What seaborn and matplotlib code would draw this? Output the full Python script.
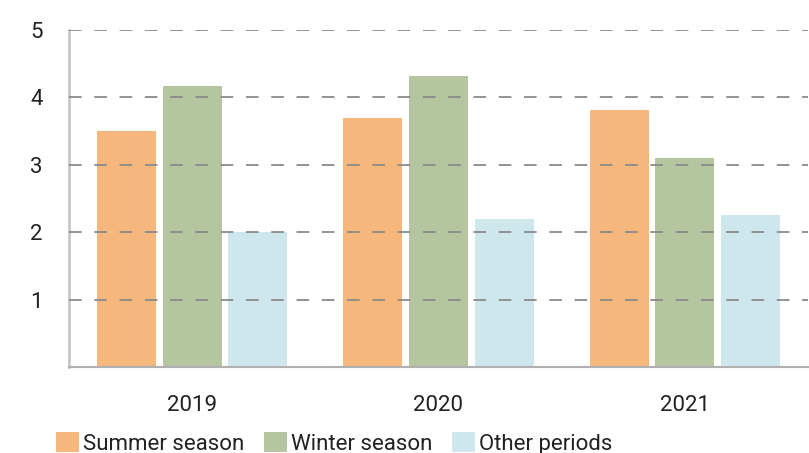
import matplotlib
matplotlib.use("Agg")
import matplotlib.pyplot as plt
import seaborn as sns
import pandas as pd

years = ["2019", "2020", "2021"]
series = ["Summer season", "Winter season", "Other periods"]
summer = [3.5, 3.7, 3.82]
winter = [4.17, 4.32, 3.1]
other = [2.0, 2.2, 2.25]
colors = ["#F6B77C", "#B5C5A0", "#CEE7EC"]

df = pd.DataFrame({
    "year": years * 3,
    "value": summer + winter + other,
    "series": [series[0]] * 3 + [series[1]] * 3 + [series[2]] * 3,
})

sns.set_theme(style="white")
plt.rcParams["font.family"] = ["Roboto", "DejaVu Sans"]

fig = plt.figure(figsize=(8.09, 4.53), dpi=100)
fig.patch.set_facecolor("white")
ax = fig.add_axes([69 / 809, 1 - 367 / 453, 739 / 809, 337 / 453])

sns.barplot(data=df, x="year", y="value", hue="series", palette=colors,
            width=0.8, gap=0.1, ax=ax, legend=True, saturation=1)

ax.set_xlim(-0.5, 2.5)
ax.set_ylim(0, 5)
ax.set_yticks([1, 2, 3, 4, 5])
ax.set_xlabel("")
ax.set_ylabel("")
ax.yaxis.grid(True, linestyle=(0, (7, 7)), color="#8a8a8a", linewidth=1.3)
ax.set_axisbelow(False)
for b in ax.patches:
    b.set_zorder(1)
    b.set_edgecolor("none")
ax.tick_params(axis="both", length=0, labelsize=16, colors="#222222")
ax.tick_params(axis="y", pad=19)
ax.tick_params(axis="x", pad=20)
for s in ["top", "right"]:
    ax.spines[s].set_visible(False)
ax.spines["left"].set_color("#c8c8c8")
ax.spines["left"].set_linewidth(2)
ax.spines["bottom"].set_color("#b0b0b0")
ax.spines["bottom"].set_linewidth(1.5)
ax.set_facecolor("white")

handles, labels = ax.get_legend_handles_labels()
ax.get_legend().remove()
fig.legend(handles, labels, loc="upper left", bbox_to_anchor=(45 / 809, 1 - 421 / 453),
           ncol=3, frameon=False, handlelength=1.05, handleheight=1.0,
           handletextpad=0.15, columnspacing=0.9, borderpad=0, labelcolor="#222222",
           prop={"size": 16})

fig.savefig("out.png", dpi=100)
